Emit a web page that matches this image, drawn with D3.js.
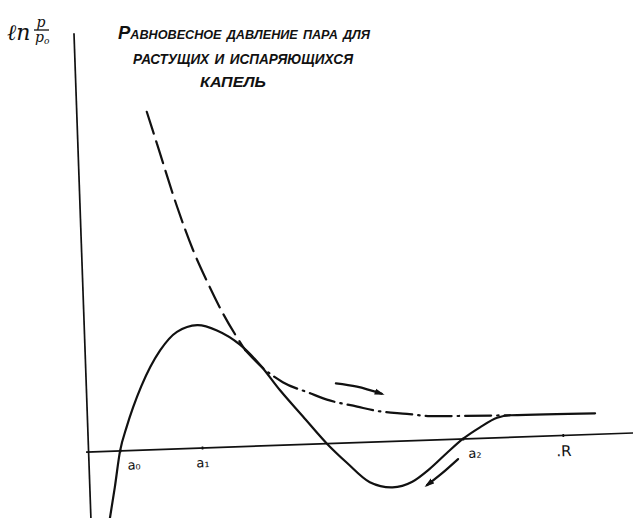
<!DOCTYPE html>
<meta charset="utf-8">
<title>Равновесное давление пара</title>
<style>
body { margin: 0; background: #fff; }

.curve {
  fill: none;
  stroke: #111;
  stroke-width: 2.2px;
  stroke-linecap: round;
}

.axis path, .axis line {
  stroke: #111;
  stroke-width: 1.7px;
}

.axis text {
  font: 13px "DejaVu Sans", sans-serif;
  fill: #111;
}

.title {
  font-family: "Liberation Sans", sans-serif;
  font-style: italic;
  font-weight: bold;
  font-variant: small-caps;
  fill: #111;
}
</style>

<body>
    <div id="chart"></div>
</body>

<script src="https://cdn.jsdelivr.net/npm/d3@7"></script>
<script>

// data (R in arbitrary units, ln p/p0)
const solidR  = [0.36, 0.50, 0.63, 0.78, 0.92, 1.10, 1.50, 1.85, 2.26, 2.65, 3.10, 3.49, 3.87, 4.31, 4.77, 5.16, 5.60, 6.05, 6.45, 6.80, 7.16, 7.49, 7.84, 8.19, 8.45, 10.15];
const solidLn = [-0.72, -0.36, 0.00, 0.24, 0.43, 0.64, 0.99, 1.17, 1.23, 1.17, 1.02, 0.81, 0.55, 0.28, 0.00, -0.20, -0.40, -0.46, -0.41, -0.29, -0.135, 0.00, 0.11, 0.20, 0.22, 0.21];

const dashR  = [1.40, 1.58, 1.94, 2.23, 2.49, 2.78, 3.20];
const dashLn = [3.38, 3.06, 2.42, 1.98, 1.66, 1.34, 0.965];

const dashDotR  = [3.20, 3.54, 3.93, 4.47, 4.80, 5.40, 5.79, 6.39, 6.85, 7.49, 8.45];
const dashDotLn = [0.965, 0.78, 0.63, 0.51, 0.44, 0.36, 0.31, 0.27, 0.24, 0.23, 0.22];

const arrow1R  = [4.99, 5.41, 5.90];
const arrow1Ln = [0.60, 0.56, 0.48];
const arrow2R  = [7.38, 7.04, 6.74];
const arrow2Ln = [-0.20, -0.34, -0.45];

const tickR      = [0.63, 2.27, 7.49, 9.49];
const tickLabels = ["a₀", "a₁", "a₂", ".R"];
const tickShift  = [13, 0, 11, 0];

const titleLines = ["Равновесное давление пара для", "растущих и испаряющихся", "капель"];

const width = 633;
const height = 518;

// the scan is turned by about 2 degrees, so the plot group is too
const origin = [88.6, 452];
const tilt = -2;

const svg = d3.select("#chart")
    .append("svg")
    .attr("width", width)
    .attr("height", height);

const x = d3.scaleLinear().domain([-0.05, 10.9]).range([-2.5, 545]);
const y = d3.scaleLinear().domain([-0.7, 4.19]).range([70, -419]);

const zip = (xs, ys) => xs.map((d, i) => [d, ys[i]]);

const line = d3.line()
    .x(d => x(d[0]))
    .y(d => y(d[1]))
    .curve(d3.curveMonotoneX);

const arrowLine = d3.line()
    .x(d => x(d[0]))
    .y(d => y(d[1]))
    .curve(d3.curveCatmullRom.alpha(0.5));

// arrow head
svg.append("defs").append("marker")
    .attr("id", "head")
    .attr("viewBox", "0 -4 10 8")
    .attr("refX", 7)
    .attr("refY", 0)
    .attr("markerUnits", "userSpaceOnUse")
    .attr("markerWidth", 10)
    .attr("markerHeight", 8)
    .attr("orient", "auto")
  .append("path")
    .attr("d", "M0,-3L10,0L0,3Z")
    .attr("fill", "#111");

const plot = svg.append("g")
    .attr("transform", `translate(${origin[0]},${origin[1]}) rotate(${tilt})`);

// axes
const xAxis = d3.axisBottom(x)
    .tickValues(tickR)
    .tickSize(0)
    .tickPadding(10)
    .tickFormat((d, i) => tickLabels[i]);

const gx = plot.append("g")
    .attr("class", "axis")
    .call(xAxis);

gx.select(".domain").attr("d", `M${x.range()[0]},0H${x.range()[1]}`);
gx.selectAll(".tick text")
    .attr("dx", (d, i) => tickShift[i])
    .style("font-size", (d, i) => i === 3 ? "15px" : "13px");
// small dot for a1
gx.selectAll(".tick line")
    .attr("y1", -1.5)
    .attr("y2", 1.5)
    .attr("stroke-width", (d, i) => i === 1 ? 2.5 : 0);

const gy = plot.append("g")
    .attr("class", "axis")
    .call(d3.axisLeft(y).tickValues([]).tickSize(0));

gy.select(".domain").attr("d", `M0,${y.range()[0]}V${y.range()[1]}`);

// curves
plot.append("path")
    .datum(zip(solidR, solidLn))
    .attr("class", "curve")
    .attr("d", line);

plot.append("path")
    .datum(zip(dashR, dashLn))
    .attr("class", "curve")
    .attr("stroke-dasharray", "23,8")
    .attr("d", line);

plot.append("path")
    .datum(zip(dashDotR, dashDotLn))
    .attr("class", "curve")
    .attr("stroke-dasharray", "26,6,1.5,6")
    .attr("d", line);

// arrows
[[arrow1R, arrow1Ln], [arrow2R, arrow2Ln]].forEach(a => {
    plot.append("path")
        .datum(zip(a[0], a[1]))
        .attr("class", "curve")
        .attr("stroke-width", 2.4)
        .attr("marker-end", "url(#head)")
        .attr("d", arrowLine);
});

// y label: ln p/p0
const yl = svg.append("g")
    .attr("fill", "#111")
    .style("font-family", "'DejaVu Serif', serif")
    .style("font-style", "italic");

yl.append("text")
    .attr("x", 7)
    .attr("y", 40)
    .style("font-size", "22px")
    .text("ℓn");

yl.append("text")
    .attr("x", 41)
    .attr("y", 27)
    .attr("text-anchor", "middle")
    .style("font-size", "14px")
    .text("p");

yl.append("line")
    .attr("x1", 34).attr("x2", 49)
    .attr("y1", 30).attr("y2", 30)
    .attr("stroke", "#111")
    .attr("stroke-width", 1.3);

yl.append("text")
    .attr("x", 35)
    .attr("y", 42)
    .style("font-size", "14px")
    .text("p")
  .append("tspan")
    .attr("dy", 2)
    .style("font-size", "9px")
    .text("o");

// title
const titleX = [118, 133, 200];
const titleY = [39, 64, 87];
const titleW = [252, 220, 66];
const titleSize = [19, 20, 20];

svg.append("g")
    .selectAll("text")
    .data(titleLines)
    .enter().append("text")
    .attr("class", "title")
    .attr("x", (d, i) => titleX[i])
    .attr("y", (d, i) => titleY[i])
    .attr("textLength", (d, i) => titleW[i])
    .attr("lengthAdjust", "spacingAndGlyphs")
    .style("font-size", (d, i) => titleSize[i] + "px")
    .text(d => d);

</script>
